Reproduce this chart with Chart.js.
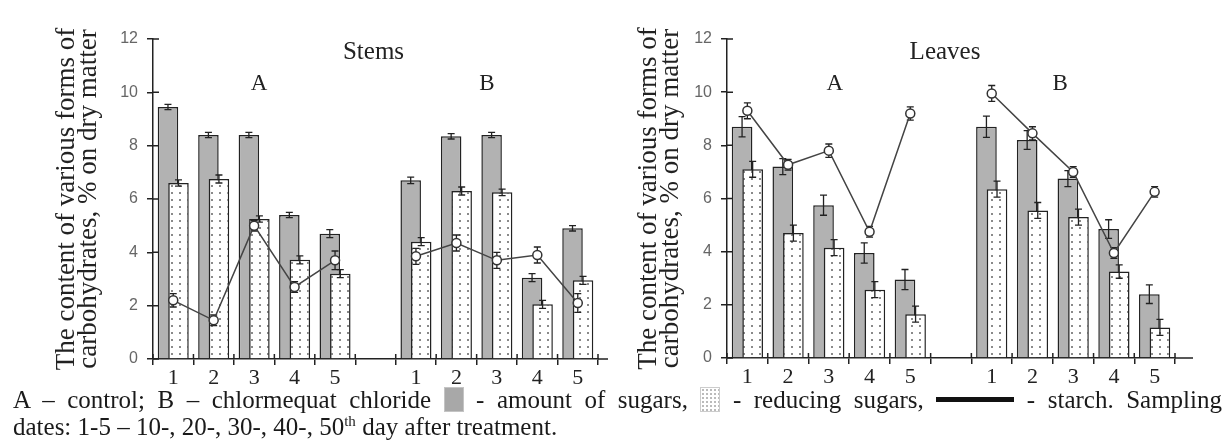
<!DOCTYPE html>
<html>
<head>
<meta charset="utf-8">
<script src="https://cdn.jsdelivr.net/npm/chart.js@4"></script>
<style>
  body { margin: 0; background: #fff; }
  #wrap { position: relative; width: 1227px; height: 448px; overflow: hidden; }
  canvas { position: absolute; top: 0; }
  #stems { left: 0; }
  #leaves { left: 612px; }
  #caption {
    position: absolute; left: 13px; top: 386px; width: 1209px;
    font-family: "Liberation Serif", serif; font-size: 25px; line-height: 27px; color: #1a1a1a;
  }
  #caption .l1 { text-align: justify; text-align-last: justify; }
  .sw { display: inline-block; vertical-align: -4px; }
  .sw.gray { width: 20px; height: 25px; background: #a8a8a8; border: 1px solid #c4c4c4; box-sizing: border-box; }
  .sw.dots { width: 20px; height: 25px; border: 1px solid #ccc; box-sizing: border-box;
    background: #fff radial-gradient(circle, #bbb 0.9px, transparent 1.3px) 0 0 / 4px 4px; }
  .sw.line { width: 78px; height: 5px; background: #111; vertical-align: 6px; }
  sup { font-size: 60%; line-height: 0; vertical-align: 9px; }
</style>
</head>
<body>
<div id="wrap">
  <canvas id="stems" width="612" height="394"></canvas>
  <canvas id="leaves" width="615" height="394"></canvas>
  <div id="caption">
    <div class="l1">A – control; B – chlormequat chloride <span class="sw gray"></span> - amount of sugars, <span class="sw dots"></span> - reducing sugars, <span class="sw line"></span> - starch. Sampling</div>
    <div>dates: 1-5 – 10-, 20-, 30-, 40-, 50<sup>th</sup> day after treatment.</div>
  </div>
</div>
<script>
// sampling dates 1-5 for A (control), empty slot, then 1-5 for B (chlormequat chloride)
const xLabels = ['1', '2', '3', '4', '5', '', '1', '2', '3', '4', '5'];
const yTicks = [0, 2, 4, 6, 8, 10, 12];
const yTitle = ['The content of various forms of', 'carbohydrates, % on dry matter'];

// Stems
const stemsTotal = [9.45, 8.4, 8.4, 5.4, 4.7, null, 6.7, 8.35, 8.4, 3.05, 4.9];
const stemsTotalErr = [0.1, 0.1, 0.1, 0.1, 0.15, null, 0.12, 0.1, 0.1, 0.15, 0.1];
const stemsReducing = [6.6, 6.75, 5.25, 3.72, 3.2, null, 4.4, 6.3, 6.25, 2.05, 2.95];
const stemsReducingErr = [0.12, 0.15, 0.12, 0.15, 0.15, null, 0.15, 0.15, 0.12, 0.15, 0.15];
const stemsStarch = [2.2, 1.45, 5.0, 2.7, 3.7, null, 3.85, 4.35, 3.7, 3.9, 2.1];
const stemsStarchErr = [0.25, 0.2, 0.2, 0.2, 0.35, null, 0.3, 0.3, 0.3, 0.3, 0.35];

// Leaves
const leavesTotal = [8.7, 7.2, 5.75, 3.95, 2.95, null, 8.7, 8.2, 6.75, 4.85, 2.4];
const leavesTotalErr = [0.38, 0.3, 0.38, 0.38, 0.38, null, 0.4, 0.35, 0.3, 0.35, 0.35];
const leavesReducing = [7.1, 4.7, 4.15, 2.57, 1.65, null, 6.35, 5.55, 5.3, 3.25, 1.15];
const leavesReducingErr = [0.3, 0.3, 0.3, 0.3, 0.3, null, 0.3, 0.3, 0.3, 0.25, 0.3];
const leavesStarch = [9.3, 7.27, 7.8, 4.75, 9.2, null, 9.95, 8.45, 7.0, 3.95, 6.25];
const leavesStarchErr = [0.3, 0.2, 0.25, 0.2, 0.25, null, 0.3, 0.25, 0.2, 0.2, 0.2];

const SERIF = '"Liberation Serif", "Times New Roman", serif';
const SANS = '"Liberation Sans", Arial, sans-serif';
const INK = '#222';

function dotPattern() {
  const c = document.createElement('canvas');
  c.width = 8; c.height = 7;
  const g = c.getContext('2d');
  g.fillStyle = '#fff';
  g.fillRect(0, 0, 8, 7);
  g.fillStyle = '#8a8a8a';
  g.fillRect(3, 3, 2, 2);
  return g.createPattern(c, 'repeat');
}

function drawErrors(chart, i) {
  const ds = chart.data.datasets[i];
  if (!ds.errors) return;
  const meta = chart.getDatasetMeta(i);
  const ys = chart.scales.y;
  const ctx = chart.ctx;
  ctx.save();
  ctx.strokeStyle = INK;
  ctx.lineWidth = 1.3;
  meta.data.forEach((el, k) => {
    const v = ds.data[k], e = ds.errors[k];
    if (v == null || e == null) return;
    const x = el.x;
    const y1 = ys.getPixelForValue(v - e), y2 = ys.getPixelForValue(v + e);
    ctx.beginPath();
    ctx.moveTo(x, y1); ctx.lineTo(x, y2);
    ctx.moveTo(x - 3.5, y1); ctx.lineTo(x + 3.5, y1);
    ctx.moveTo(x - 3.5, y2); ctx.lineTo(x + 3.5, y2);
    ctx.stroke();
  });
  ctx.restore();
}

// gray bars sit on the left but must be drawn under the dotted ones
const layering = {
  id: 'layering',
  beforeDatasetsDraw(chart) {
    chart.getDatasetMeta(0).controller.draw();
    drawErrors(chart, 0);
  },
  beforeDatasetDraw(chart, args) {
    if (args.index === 0) return false;
    if (args.index === 2) drawErrors(chart, 2);
  },
  afterDatasetDraw(chart, args) {
    if (args.index === 1) drawErrors(chart, 1);
  }
};

const decorations = {
  id: 'decorations',
  afterDraw(chart, args, opts) {
    const ctx = chart.ctx;
    const area = chart.chartArea;
    const xs = chart.scales.x, ys = chart.scales.y;
    ctx.save();
    ctx.strokeStyle = INK;
    ctx.lineWidth = 1.5;
    ctx.beginPath();
    // inner halves of the tick marks, so they cross the axes
    ys.ticks.forEach(t => {
      const py = ys.getPixelForValue(t.value);
      ctx.moveTo(area.left, py); ctx.lineTo(area.left + 6, py);
    });
    const n = xLabels.length;
    const w = (area.right - area.left) / n;
    for (let i = 0; i <= n; i++) {
      const px = area.left + i * w;
      ctx.moveTo(px, area.bottom); ctx.lineTo(px, area.bottom - 5);
    }
    ctx.moveTo(area.right, area.bottom); ctx.lineTo(area.right + opts.axisExt, area.bottom);
    ctx.stroke();

    ctx.fillStyle = INK;
    ctx.textAlign = 'center';
    ctx.textBaseline = 'middle';
    ctx.font = '25px ' + SERIF;
    ctx.fillText(opts.title, (area.left + area.right) / 2 + opts.titleDx, area.top + 13);
    ctx.font = '23px ' + SERIF;
    ctx.fillText('A', xs.getPixelForValue(2) + opts.aDx, area.top + 45);
    ctx.fillText('B', xs.getPixelForValue(8) + opts.bDx, area.top + 45);
    ctx.restore();
  }
};

function makeChart(id, total, totalErr, reducing, reducingErr, starch, starchErr, geo) {
  const ctx = document.getElementById(id).getContext('2d');
  return new Chart(ctx, {
    type: 'bar',
    data: {
      labels: xLabels,
      datasets: [
        {
          label: 'amount of sugars',
          data: total,
          errors: totalErr,
          order: 1,
          backgroundColor: '#b2b2b2',
          borderColor: INK,
          borderWidth: 1.5,
          categoryPercentage: 0.52,
          barPercentage: 1.95
        },
        {
          label: 'reducing sugars',
          data: reducing,
          errors: reducingErr,
          order: 2,
          backgroundColor: dotPattern(),
          borderColor: INK,
          borderWidth: 1.5,
          categoryPercentage: 0.52,
          barPercentage: 1.95
        },
        {
          type: 'line',
          label: 'starch',
          data: starch,
          errors: starchErr,
          order: 0,
          borderColor: '#444',
          borderWidth: 1.5,
          pointRadius: 4.5,
          pointBackgroundColor: '#fff',
          pointBorderColor: '#333',
          pointBorderWidth: 1.5,
          spanGaps: false,
          tension: 0
        }
      ]
    },
    options: {
      responsive: false,
      animation: false,
      devicePixelRatio: 1,
      layout: { padding: { top: 39, right: geo.padRight, left: 0, bottom: 0 } },
      plugins: {
        legend: { display: false },
        tooltip: { enabled: false },
        decorations: { title: geo.title, titleDx: geo.titleDx, aDx: geo.aDx, bDx: geo.bDx, axisExt: geo.axisExt }
      },
      scales: {
        x: {
          type: 'category',
          offset: true,
          grid: { offset: true, drawOnChartArea: false, tickLength: 6, color: INK, lineWidth: 1.5 },
          border: { color: INK, width: 1.5 },
          ticks: { autoSkip: false, maxRotation: 0, padding: 0, color: INK, font: { family: SERIF, size: 22 } },
          afterFit: s => { s.height = geo.xHeight; }
        },
        y: {
          min: 0,
          max: 12,
          afterBuildTicks: s => { s.ticks = yTicks.map(v => ({ value: v })); },
          grid: { drawOnChartArea: false, tickLength: 6, color: INK, lineWidth: 1.5 },
          border: { color: INK, width: 1.5 },
          ticks: { padding: 9, color: '#666', font: { family: SANS, size: 16 } },
          title: {
            display: true,
            text: yTitle,
            color: INK,
            font: { family: SERIF, size: 27, lineHeight: '22px' },
            padding: { top: geo.titlePad, bottom: 0 }
          },
          afterFit: s => { s.width = geo.yWidth; }
        }
      }
    },
    plugins: [layering, decorations]
  });
}

makeChart('stems', stemsTotal, stemsTotalErr, stemsReducing, stemsReducingErr, stemsStarch, stemsStarchErr,
  { title: 'Stems', titleDx: -2, aDx: 5, bDx: -10, axisExt: 10, padRight: 14, yWidth: 153, xHeight: 35, titlePad: 56 });
makeChart('leaves', leavesTotal, leavesTotalErr, leavesReducing, leavesReducingErr, leavesStarch, leavesStarchErr,
  { title: 'Leaves', titleDx: -6, aDx: 6, bDx: -13, axisExt: 18, padRight: 52, yWidth: 115, xHeight: 36, titlePad: 26 });
</script>
</body>
</html>
